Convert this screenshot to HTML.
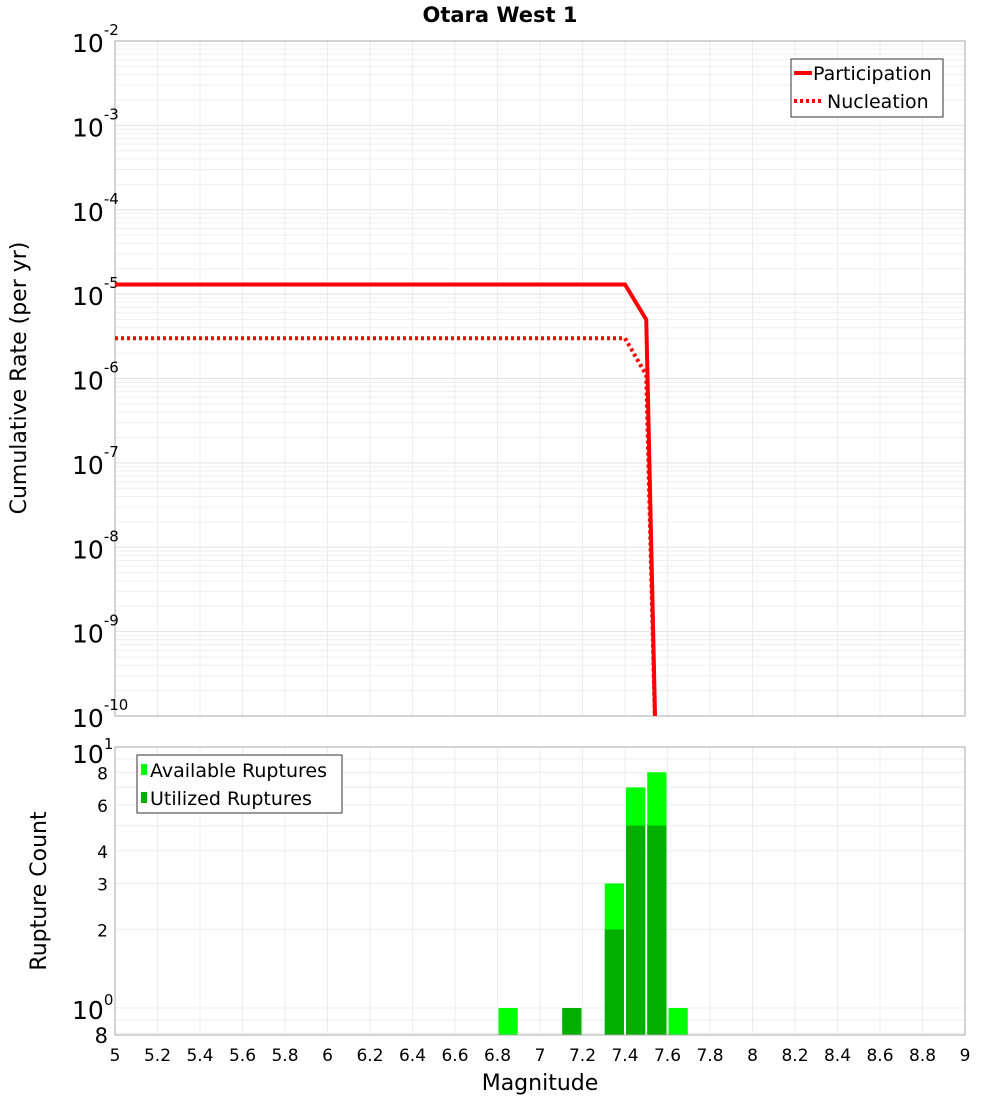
<!DOCTYPE html>
<html><head><meta charset="utf-8"><style>
body{margin:0;background:#fff;font-family:"DejaVu Sans","Liberation Sans",sans-serif}
</style></head><body>
<svg id="c" width="1000" height="1100" xmlns="http://www.w3.org/2000/svg" font-family="DejaVu Sans, Liberation Sans, sans-serif">
<text x="500" y="22" text-anchor="middle" font-size="21" font-weight="bold">Otara West 1</text>
<g id="topg"></g><g id="botg"></g>
<text x="540" y="1090" text-anchor="middle" font-size="22">Magnitude</text>
<text transform="translate(26,378) rotate(-90)" text-anchor="middle" font-size="22">Cumulative Rate (per yr)</text>
<text transform="translate(46,891) rotate(-90)" text-anchor="middle" font-size="22">Rupture Count</text>
</svg>
<script>
const lineMags=[5,7.4,7.5,7.55];
const participation=[1.3e-5,1.3e-5,5e-6,1e-11];
const nucleation=[3.0e-6,3.0e-6,1.1e-6,1e-11];
const barMags=[6.85,7.15,7.35,7.45,7.55,7.65];
const available=[1,1,3,7,8,1];
const utilized=[0,1,2,5,5,0];
const xTicks=[5,5.2,5.4,5.6,5.8,6,6.2,6.4,6.6,6.8,7,7.2,7.4,7.6,7.8,8,8.2,8.4,8.6,8.8,9];
const topDecades=[-10,-9,-8,-7,-6,-5,-4,-3,-2];
const botTicks=[2,3,4,6,8];

const NS='http://www.w3.org/2000/svg';
const L=115,R=965,T1=41,B1=716,T2=747,B2=1035;
const X=m=>L+(m-5)/4*(R-L);
const Y1=v=>T1+(-2-Math.log10(v))*(B1-T1)/8;
const Y2=v=>1008-Math.log10(v)*261;
function mk(p,t,a){const e=document.createElementNS(NS,t);for(const k in a)e.setAttribute(k,a[k]);p.appendChild(e);return e;}
const topG=document.getElementById('topg'),botG=document.getElementById('botg');
for(let d=-10;d<-2;d++)for(let k=1;k<10;k++){const y=Y1(k*Math.pow(10,d));const g=mk(topG,'line',{x1:L,x2:R,y1:y,y2:y,stroke:k==1?'#e2e2e2':'#efefef','stroke-width':1});}
for(let m=5;m<=9.001;m+=0.2){const x=X(m);const g=mk(topG,'line',{x1:x,x2:x,y1:T1,y2:B1,stroke:'#ececec'});}
const f1=mk(topG,'rect',{x:L,y:T1,width:R-L,height:B1-T1,fill:'none',stroke:'#aaa'});

topDecades.forEach(d=>{const y=Y1(Math.pow(10,d));const tt=mk(topG,'text',{x:72,y:y+11,'font-size':25});tt.textContent='10';const s=mk(tt,'tspan',{dy:-17,'font-size':15});s.textContent=String(d);});
const cp=mk(topG,'clipPath',{id:'cp'});mk(cp,'rect',{x:L,y:T1,width:R-L,height:B1-T1});
function path(vals){return lineMags.map((m,i)=>(i?'L':'M')+X(m)+','+Y1(vals[i])).join(' ');}
const p1=mk(topG,'path',{d:path(participation),fill:'none',stroke:'#f00','stroke-width':4,'clip-path':'url(#cp)'});

const p2=mk(topG,'path',{d:path(nucleation),fill:'none',stroke:'#f00','stroke-width':4,'stroke-dasharray':'3,3','clip-path':'url(#cp)'});

const lg=mk(topG,'g',{});
mk(lg,'rect',{x:791,y:59,width:152,height:58,fill:'#fff',stroke:'#333'});
mk(lg,'line',{x1:794,x2:812,y1:73,y2:73,stroke:'#f00','stroke-width':4});
mk(lg,'line',{x1:794,x2:822,y1:101,y2:101,stroke:'#f00','stroke-width':4,'stroke-dasharray':'3,3'});
let tx=mk(lg,'text',{x:813,y:80,'font-size':19});tx.textContent='Participation';
tx=mk(lg,'text',{x:827,y:108,'font-size':19});tx.textContent='Nucleation';
[0.8,0.9,1,2,3,4,5,6,7,8,9,10].forEach(v=>{const y=Y2(v);const g=mk(botG,'line',{x1:L,x2:R,y1:y,y2:y,stroke:'#ececec'});});
for(let m=5;m<=9.001;m+=0.2){const x=X(m);const g=mk(botG,'line',{x1:x,x2:x,y1:T2,y2:B2,stroke:'#ececec'});}
barMags.forEach((m,i)=>{const x0=X(m-0.05)+1,w=X(m+0.05)-X(m-0.05)-2;
 const a=mk(botG,'rect',{x:x0,y:Y2(available[i]),width:w,height:B2-Y2(available[i]),fill:'#00ff00'});
 if(utilized[i]>0){const u=mk(botG,'rect',{x:x0,y:Y2(utilized[i]),width:w,height:B2-Y2(utilized[i]),fill:'#00b000'});}});
const f2=mk(botG,'rect',{x:L,y:T2,width:R-L,height:B2-T2,fill:'none',stroke:'#aaa'});

botTicks.forEach(v=>{const tt=mk(botG,'text',{x:108,y:Y2(v)+7,'font-size':17,'text-anchor':'end'});tt.textContent=String(v);});
[[10,'1',763],[1,'0',1019]].forEach(([v,e,y])=>{const tt=mk(botG,'text',{x:72,y:y,'font-size':25});tt.textContent='10';const s=mk(tt,'tspan',{dy:-14,'font-size':15});s.textContent=e;});
tx=mk(botG,'text',{x:108,y:1043,'font-size':21,'text-anchor':'end'});tx.textContent='8';
const lg2=mk(botG,'g',{});
mk(lg2,'rect',{x:137,y:755,width:205,height:58,fill:'#fff',stroke:'#333'});
mk(lg2,'rect',{x:141,y:764,width:6,height:11,fill:'#00ff00'});
mk(lg2,'rect',{x:141,y:792,width:6,height:11,fill:'#00b000'});
tx=mk(lg2,'text',{x:150,y:777,'font-size':19});tx.textContent='Available Ruptures';
tx=mk(lg2,'text',{x:150,y:805,'font-size':19});tx.textContent='Utilized Ruptures';
xTicks.forEach(m=>{const tt=mk(botG,'text',{x:X(m),y:1061,'font-size':17,'text-anchor':'middle'});tt.textContent=String(m);});
</script>
</body></html>
